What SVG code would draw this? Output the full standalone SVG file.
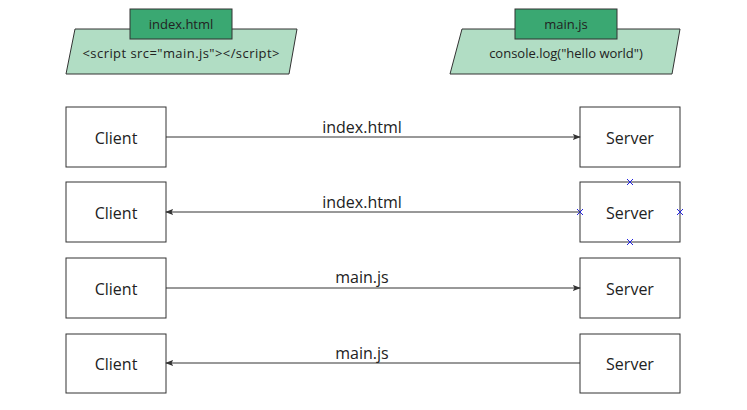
<svg xmlns="http://www.w3.org/2000/svg" width="747" height="410" viewBox="0 0 747 410">
<style>
.para{fill:#b1ddc4;stroke:#333;stroke-width:1}
.tab{fill:#3aa872;stroke:#333;stroke-width:1}
.box{fill:#fff;stroke:#333;stroke-width:1}
.t13{font-family:"Open Sans","Noto Sans",sans-serif;font-size:13px;fill:#222;text-anchor:middle}
.t16{font-family:"Open Sans","Noto Sans",sans-serif;font-size:16px;fill:#222;text-anchor:middle}
.conn{stroke:#333;stroke-width:1;fill:none}
.x{stroke:#2222dd;stroke-width:1}
</style>
<defs>
<marker id="ah" viewBox="0 0 10 10" refX="9" refY="5" markerWidth="8" markerHeight="8" markerUnits="userSpaceOnUse" orient="auto">
<path d="M0,1 L10,5 L0,9 L2,5 Z" fill="#333"/>
</marker>
</defs>
<rect width="747" height="410" fill="#fff"/>
<g id="html-file">
<polygon class="para" points="75,29 297,29 289,74 66,74"/>
<rect class="tab" x="130" y="9" width="102" height="30"/>
<text class="t13" x="181" y="29">index.html</text>
<text class="t13" x="181" y="58" textLength="197" lengthAdjust="spacing">&lt;script src="main.js"&gt;&lt;/script&gt;</text>
</g>
<g id="js-file">
<polygon class="para" points="462,29 680,29 672,74 450,74"/>
<rect class="tab" x="515" y="9" width="102" height="30"/>
<text class="t13" x="566" y="29">main.js</text>
<text class="t13" x="566" y="58">console.log("hello world")</text>
</g>
<g id="client1"><rect class="box" x="66" y="107" width="100" height="60"/><text class="t16" x="116" y="144">Client</text></g>
<g id="server1"><rect class="box" x="580" y="107" width="100" height="60"/><text class="t16" x="630" y="144">Server</text></g>
<g id="client2"><rect class="box" x="66" y="182" width="100" height="60"/><text class="t16" x="116" y="219">Client</text></g>
<g id="server2"><rect class="box" x="580" y="182" width="100" height="60"/><text class="t16" x="630" y="219">Server</text>
<path class="x" d="M627,179 L633,185 M633,179 L627,185 M577,209 L583,215 M583,209 L577,215 M677,209 L683,215 M683,209 L677,215 M627,239 L633,245 M633,239 L627,245"/>
</g>
<g id="client3"><rect class="box" x="66" y="258" width="100" height="60"/><text class="t16" x="116" y="295">Client</text></g>
<g id="server3"><rect class="box" x="580" y="258" width="100" height="60"/><text class="t16" x="630" y="295">Server</text></g>
<g id="client4"><rect class="box" x="66" y="334" width="100" height="59"/><text class="t16" x="116" y="370">Client</text></g>
<g id="server4"><rect class="box" x="580" y="334" width="100" height="59"/><text class="t16" x="630" y="370">Server</text></g>
<g id="connectors">
<line class="conn" x1="166" y1="137" x2="580" y2="137" marker-end="url(#ah)"/>
<text class="t16" x="362" y="133">index.html</text>
<line class="conn" x1="580" y1="212" x2="166" y2="212" marker-end="url(#ah)"/>
<text class="t16" x="362" y="208">index.html</text>
<line class="conn" x1="166" y1="288" x2="580" y2="288" marker-end="url(#ah)"/>
<text class="t16" x="362" y="283">main.js</text>
<line class="conn" x1="580" y1="363" x2="166" y2="363" marker-end="url(#ah)"/>
<text class="t16" x="362" y="359">main.js</text>
</g>
</svg>
